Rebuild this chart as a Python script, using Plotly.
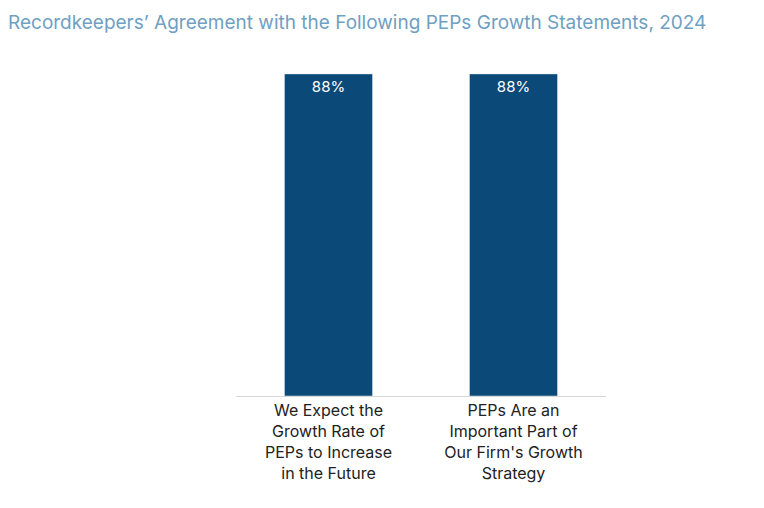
import plotly.graph_objects as go

categories = ["We Expect the<br>Growth Rate of<br>PEPs to Increase<br>in the Future",
              "PEPs Are an<br>Important Part of<br>Our Firm's Growth<br>Strategy"]
values = [88, 88]
labels = ["88%", "88%"]

fig = go.Figure(go.Bar(
    x=categories, y=values, text=labels, textposition="inside", insidetextanchor="end",
    textfont=dict(color="white", size=15, family="Inter"),
    marker=dict(color="#0b4a78"), hoverinfo="skip"))
fig.update_layout(
    width=764, height=508, paper_bgcolor="white", plot_bgcolor="white",
    margin=dict(l=228, r=166, t=22, b=120),
    bargap=0.524, showlegend=False,
    title=dict(text="Recordkeepers’ Agreement with the Following PEPs Growth Statements, 2024",
               x=0.0, xanchor="left", y=0.972, yanchor="middle",
               font=dict(family="Inter", size=19, color="#6f9fc2")),
    font=dict(family="Inter"),
)
fig.update_yaxes(range=[0, 100], visible=False)
fig.update_xaxes(showline=True, linecolor="#d8d8d8", linewidth=1, ticks="",
                 tickfont=dict(size=16, color="#222222"))
fig.write_html("out.html")
